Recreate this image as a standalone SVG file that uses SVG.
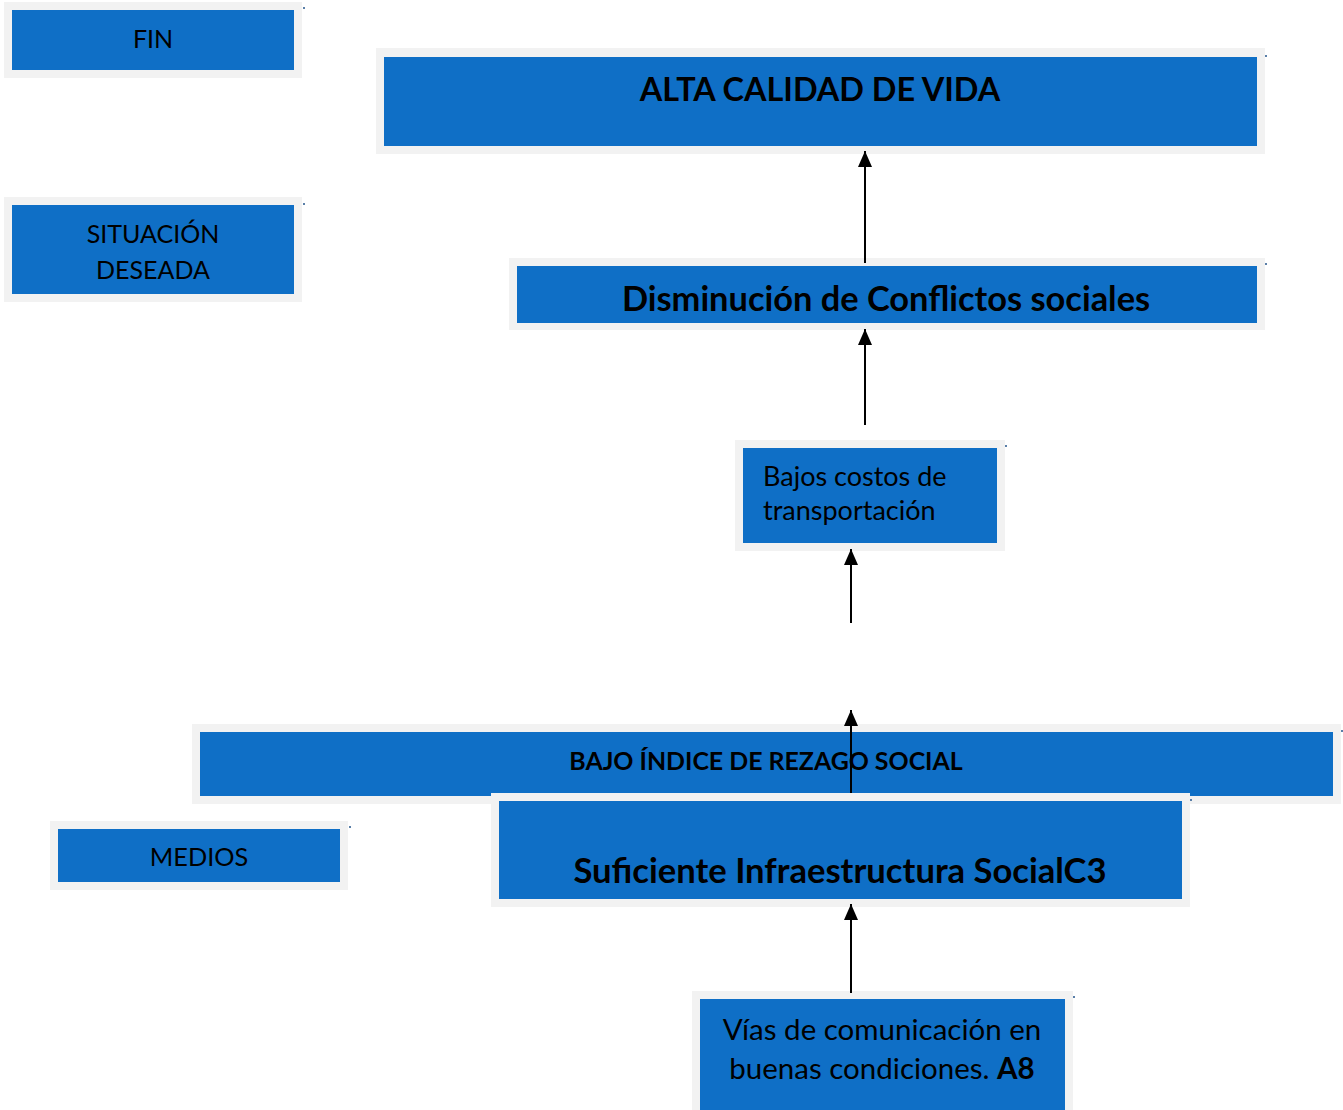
<svg xmlns="http://www.w3.org/2000/svg" width="1343" height="1110" viewBox="0 0 1343 1110">
<defs>
<style>
.frame{fill:#f2f2f2}
.box{fill:#0f6fc6}
.tick{fill:#5a7fa8}
text{font-family:Lato,"Open Sans","Liberation Sans",sans-serif;fill:#000}
.c{text-anchor:middle}
.b{font-weight:bold}
.conn line{stroke:#000;stroke-width:2}
</style>
<marker id="ah" markerWidth="16" markerHeight="14" refX="16" refY="7" orient="auto" markerUnits="userSpaceOnUse" viewBox="0 0 16 14">
<path d="M0,0 L16,7 L0,14 Z" fill="#000"/>
</marker>
</defs>
<rect width="1343" height="1110" fill="#fff"/>

<g id="fin">
<rect class="frame" x="4" y="2" width="298" height="76"/>
<rect class="box" x="12" y="10" width="282" height="60"/>
<rect class="tick" x="303" y="7" width="2" height="2"/>
<text class="c" x="153" y="48" font-size="25">FIN</text>
</g>

<g id="situacion">
<rect class="frame" x="4" y="197" width="298" height="105"/>
<rect class="box" x="12" y="205" width="282" height="89"/>
<rect class="tick" x="303" y="203" width="2" height="2"/>
<text class="c" x="153" y="243" font-size="25">SITUACIÓN</text>
<text class="c" x="153" y="279" font-size="25">DESEADA</text>
</g>

<g id="medios">
<rect class="frame" x="50" y="821" width="298" height="69"/>
<rect class="box" x="58" y="829" width="282" height="53"/>
<rect class="tick" x="349" y="826" width="2" height="2"/>
<text class="c" x="199" y="866" font-size="25.3">MEDIOS</text>
</g>

<g id="alta">
<rect class="frame" x="376" y="48" width="889" height="106"/>
<rect class="box" x="384" y="57" width="873" height="89"/>
<rect class="tick" x="1265" y="55" width="2" height="2"/>
<text class="c b" x="820" y="101" font-size="32.4">ALTA CALIDAD DE VIDA</text>
</g>

<g id="disminucion">
<rect class="frame" x="509" y="258" width="756" height="72"/>
<rect class="box" x="517" y="266" width="740" height="57"/>
<rect class="tick" x="1265" y="263" width="2" height="2"/>
<text class="c b" x="886" y="311" font-size="34.4">Disminución de Conflictos sociales</text>
</g>

<g id="bajos">
<rect class="frame" x="735" y="440" width="270" height="111"/>
<rect class="box" x="743" y="448" width="254" height="95"/>
<rect class="tick" x="1005" y="445" width="2" height="2"/>
<text x="763" y="486" font-size="27">Bajos costos de</text>
<text x="763" y="520" font-size="27">transportación</text>
</g>

<g id="bajo-indice">
<rect class="frame" x="192" y="724" width="1149" height="80"/>
<rect class="box" x="200" y="732" width="1133" height="64"/>
<rect class="tick" x="1341" y="730" width="2" height="2"/>
<text class="c b" x="766" y="770" font-size="24.9">BAJO ÍNDICE DE REZAGO SOCIAL</text>
</g>

<g id="suficiente">
<rect class="frame" x="491" y="793" width="699" height="114"/>
<rect class="box" x="499" y="801" width="683" height="98"/>
<rect class="tick" x="1190" y="799" width="2" height="2"/>
<text class="c b" x="840" y="883" font-size="34.6">Suficiente Infraestructura SocialC3</text>
</g>

<g id="vias">
<rect class="frame" x="692" y="991" width="381" height="119"/>
<rect class="box" x="700" y="999" width="365" height="111"/>
<rect class="tick" x="1073" y="996" width="2" height="2"/>
<text class="c" x="882" y="1040" font-size="29.5">Vías de comunicación en</text>
<text class="c" x="882" y="1079" font-size="29.5">buenas condiciones. <tspan class="b">A8</tspan></text>
</g>

<g id="connectors" class="conn">
<line x1="865" y1="263" x2="865" y2="151" marker-end="url(#ah)"/>
<line x1="865" y1="425" x2="865" y2="329" marker-end="url(#ah)"/>
<line x1="851" y1="623" x2="851" y2="549" marker-end="url(#ah)"/>
<line x1="851" y1="793" x2="851" y2="710" marker-end="url(#ah)"/>
<line x1="851" y1="993" x2="851" y2="904" marker-end="url(#ah)"/>
</g>
</svg>
